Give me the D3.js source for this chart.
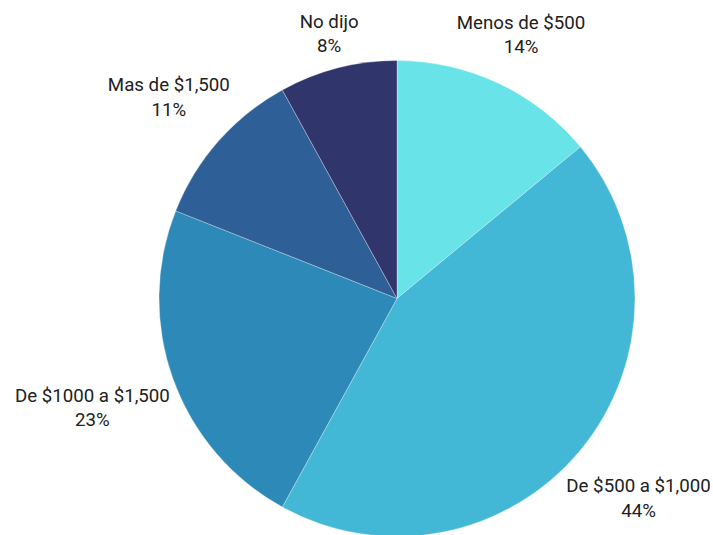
<!DOCTYPE html>
<html>
<head>
<meta charset="utf-8">
<script src="https://cdn.jsdelivr.net/npm/d3@7"></script>
<style>
  html, body { margin: 0; padding: 0; background: #fff; }
  svg { display: block; }
  text { font-family: Roboto, "Noto Sans", sans-serif; }
</style>
</head>
<body>
<svg id="chart" width="713" height="535"></svg>
<script>
// Ingreso mensual declarado (porcentaje de respuestas)
const categories = ["Menos de $500", "De $500 a $1,000", "De $1000 a $1,500", "Mas de $1,500", "No dijo"];
const values = [14, 44, 23, 11, 8];
const colors = ["#68e4e8", "#42b7d6", "#2d8ab8", "#2e5f97", "#30356b"];

const width = 713, height = 535;
const cx = 397, cy = 298.5, radius = 238;
const labelGap = 5;

const svg = d3.select("#chart");
const g = svg.append("g").attr("transform", `translate(${cx},${cy})`);

const data = categories.map((c, i) => ({ category: c, value: values[i], color: colors[i] }));

const pie = d3.pie().value(d => d.value).sort(null);
const arc = d3.arc().innerRadius(0).outerRadius(radius);
const arcs = pie(data);

g.selectAll("path.slice")
  .data(arcs)
  .join("path")
  .attr("class", "slice")
  .attr("d", arc)
  .attr("fill", d => d.data.color)
  .attr("stroke", "#ffffff")
  .attr("stroke-opacity", 0.5)
  .attr("stroke-width", 0.6);

// Two-line labels placed just outside the rim, box edge touching radius + gap
const total = d3.sum(values);
const labels = g.selectAll("text.label")
  .data(arcs)
  .join("text")
  .attr("class", "label")
  .attr("text-anchor", "middle")
  .attr("fill", "#212121")
  .style("font-size", "18.7px");

labels.append("tspan").attr("x", 0).attr("dy", 0).text(d => d.data.category);
labels.append("tspan").attr("x", 0).attr("dy", 24.5)
  .text(d => Math.round(d.data.value / total * 100) + "%");

labels.each(function(d) {
  const bb = this.getBBox();
  const mid = (d.startAngle + d.endAngle) / 2;
  const s = Math.sin(mid), c = -Math.cos(mid);
  const off = radius + labelGap + (bb.width / 2) * Math.abs(s) + (bb.height / 2) * Math.abs(c);
  const px = off * s, py = off * c;
  const bx = bb.x + bb.width / 2, by = bb.y + bb.height / 2;
  d3.select(this).attr("transform", `translate(${px - bx},${py - by})`);
});
</script>
</body>
</html>
